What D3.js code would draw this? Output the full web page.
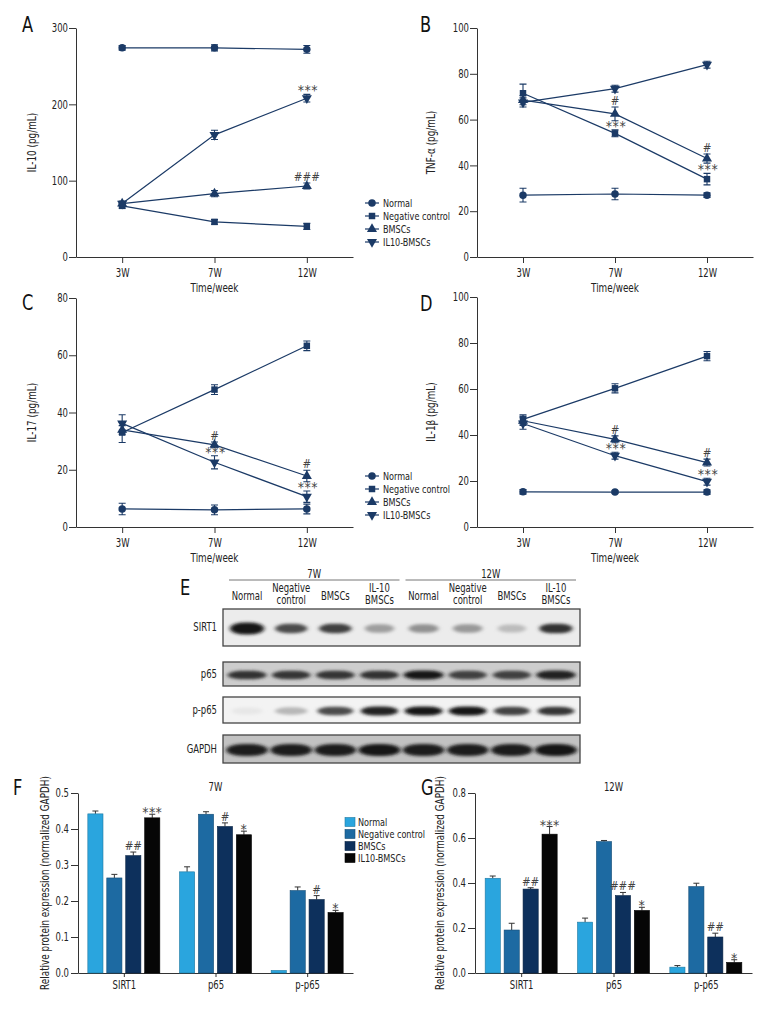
<!DOCTYPE html>
<html><head><meta charset="utf-8">
<script src="https://cdn.jsdelivr.net/npm/d3@7"></script>
<style>
body{margin:0;background:#fff;}
svg{display:block;font-family:"Liberation Sans Narrow","DejaVu Sans Condensed","Arial Narrow",sans-serif;fill:#222;}
</style></head><body>
<svg id="c" width="780" height="1020"></svg>
<script>
// ---------------- DATA ----------------
const times = ["3W", "7W", "12W"];
const groupNames = ["Normal", "Negative control", "BMSCs", "IL10-BMSCs"];

// line panels: rows = Normal, Negative control, BMSCs, IL10-BMSCs ; cols = 3W, 7W, 12W
const il10Values = [[274, 274, 272], [67, 46, 40], [70, 83, 93], [70, 160, 208]];
const il10Errors = [[3, 4, 5], [3, 3, 4], [3, 4, 4], [3, 6, 5]];
const il10Marks = [{ s: 3, t: 2, text: "***" }, { s: 2, t: 2, text: "###" }];

const tnfValues = [[27, 27.5, 27], [71.5, 54, 34], [68.5, 62.5, 43], [67.5, 73.5, 84]];
const tnfErrors = [[3, 2.5, 1], [4, 1.5, 2.5], [2, 3, 2], [2, 1.5, 1.5]];
const tnfMarks = [{ s: 2, t: 1, text: "#" }, { s: 1, t: 1, text: "***" }, { s: 2, t: 2, text: "#" }, { s: 1, t: 2, text: "***" }];

const il17Values = [[6.3, 6, 6.3], [33, 48, 63.3], [33.9, 28.7, 17.8], [36.2, 22.6, 10.6]];
const il17Errors = [[2, 1.7, 1.7], [3.5, 1.7, 1.7], [1.5, 1, 2], [3, 2.3, 2]];
const il17Marks = [{ s: 2, t: 1, text: "#" }, { s: 3, t: 1, text: "***" }, { s: 2, t: 2, text: "#" }, { s: 3, t: 2, text: "***" }];

const il1bValues = [[15.3, 15.2, 15.2], [46.8, 60.3, 74.3], [46.2, 38.1, 28], [45, 31, 19.7]];
const il1bErrors = [[1, 0.5, 1], [2, 2, 2], [2, 1.5, 1.5], [2.5, 1.5, 1.5]];
const il1bMarks = [{ s: 2, t: 1, text: "#" }, { s: 3, t: 1, text: "***" }, { s: 2, t: 2, text: "#" }, { s: 3, t: 2, text: "***" }];

// bar panels: rows = groups ; cols = proteins
const proteins = ["SIRT1", "p65", "p-p65"];
const w7Values = [[0.442, 0.281, 0.007], [0.264, 0.441, 0.229], [0.326, 0.407, 0.204], [0.431, 0.384, 0.168]];
const w7Errors = [[0.008, 0.014, 0.0], [0.01, 0.007, 0.01], [0.01, 0.01, 0.011], [0.01, 0.01, 0.006]];
const w7Marks = [["", "", ""], ["", "", ""], ["##", "#", "#"], ["***", "*", "*"]];
const w12Values = [[0.421, 0.226, 0.026], [0.191, 0.584, 0.384], [0.373, 0.344, 0.16], [0.617, 0.278, 0.047]];
const w12Errors = [[0.01, 0.018, 0.007], [0.03, 0.005, 0.015], [0.006, 0.014, 0.017], [0.034, 0.014, 0.012]];
const w12Marks = [["", "", ""], ["", "", ""], ["##", "###", "##"], ["***", "*", "*"]];

// western blot
const blotWeeks = ["7W", "12W"];
const blotLanes = [["Normal"], ["Negative", "control"], ["BMSCs"], ["IL-10", "BMSCs"]];
const blotRows = ["SIRT1", "p65", "p-p65", "GAPDH"];
const sirt1Bands = [1.0, 0.74, 0.8, 0.36, 0.42, 0.38, 0.22, 0.86];
const p65Bands = [0.86, 0.84, 0.84, 0.86, 1.0, 0.8, 0.8, 0.94];
const pp65Bands = [0.02, 0.24, 0.74, 0.93, 1.0, 1.0, 0.78, 0.84];
const gapdhBands = [0.95, 0.95, 0.95, 1.0, 0.95, 0.95, 0.95, 1.0];

// ---------------- STYLE ----------------
const svg = d3.select("#c");
const LINE_COL = "#1b3a66";
const AXIS_COL = "#333";
const FS = 11.5;
const barColors = ["#2aa5de", "#1d6aa2", "#0d305c", "#060606"];
const symbols = [
  d3.symbol().type(d3.symbolCircle).size(44)(),
  d3.symbol().type(d3.symbolSquare).size(42)(),
  d3.symbol().type(d3.symbolTriangle).size(44)(),
  d3.symbol().type(d3.symbolTriangle).size(44)()
];
const symRot = [0, 0, 0, 180];

function styleAxis(g) {
  g.attr("font-family", null).attr("font-size", FS);
  g.selectAll("path,line").attr("stroke", AXIS_COL).attr("stroke-width", 1);
  g.selectAll("text").attr("fill", "#222");
}

function letter(t, x, y) {
  svg.append("text").attr("x", x).attr("y", y).attr("font-size", 22).attr("fill", "#111").text(t);
}

function drawLineChart(o) {
  const g = svg.append("g");
  const x = d3.scalePoint().domain(times).range([o.left, o.right]).padding(0.5);
  const y = d3.scaleLinear().domain([0, o.max]).range([o.bottom, o.top]);
  g.append("g").attr("transform", `translate(${o.left},0)`)
    .call(d3.axisLeft(y).tickValues(d3.range(0, o.max + 1e-9, o.step)).tickSize(7).tickPadding(1).tickSizeOuter(0))
    .call(styleAxis);
  g.append("g").attr("transform", `translate(0,${o.bottom})`)
    .call(d3.axisBottom(x).tickSize(6).tickPadding(6).tickSizeOuter(0))
    .call(styleAxis);
  g.append("text").attr("x", (o.left + o.right) / 2).attr("y", o.bottom + 35)
    .attr("text-anchor", "middle").attr("font-size", 12).text("Time/week");
  g.append("text").attr("transform", `translate(${o.ylabX},${(o.top + o.bottom) / 2}) rotate(-90)`)
    .attr("text-anchor", "middle").attr("font-size", 12).text(o.ylab);

  const line = d3.line().x((d, i) => x(times[i])).y(d => y(d));
  o.values.forEach((vals) => {
    g.append("path").attr("d", line(vals)).attr("fill", "none").attr("stroke", LINE_COL).attr("stroke-width", 1.2);
  });
  o.values.forEach((vals, s) => {
    vals.forEach((v, i) => {
      const e = o.errors[s][i], cx = x(times[i]);
      g.append("path").attr("d", `M${cx},${y(v - e)}V${y(v + e)}M${cx - 3.5},${y(v - e)}H${cx + 3.5}M${cx - 3.5},${y(v + e)}H${cx + 3.5}`)
        .attr("stroke", LINE_COL).attr("stroke-width", 1.1).attr("fill", "none");
    });
  });
  o.values.forEach((vals, s) => {
    vals.forEach((v, i) => {
      g.append("path").attr("d", symbols[s])
        .attr("transform", `translate(${x(times[i])},${y(v)}) rotate(${symRot[s]})`)
        .attr("fill", LINE_COL);
    });
  });
  o.marks.forEach(m => {
    const v = o.values[m.s][m.t] + o.errors[m.s][m.t];
    const star = m.text.includes("*");
    g.append("text").attr("x", x(times[m.t]) + (star ? 1 : 0)).attr("y", y(v) - 6 + (star ? 7 : 4))
      .attr("text-anchor", "middle").attr("font-size", star ? 14 : 11.5)
      .attr("letter-spacing", star ? 0.5 : 0).attr("fill", "#444").text(m.text);
  });
  if (o.legendX) {
    groupNames.forEach((n, s) => {
      const ly = o.legendY + s * 13;
      g.append("line").attr("x1", o.legendX).attr("x2", o.legendX + 14).attr("y1", ly).attr("y2", ly)
        .attr("stroke", LINE_COL).attr("stroke-width", 1.2);
      g.append("path").attr("d", symbols[s]).attr("transform", `translate(${o.legendX + 7},${ly}) rotate(${symRot[s]})`).attr("fill", LINE_COL);
      g.append("text").attr("x", o.legendX + 18).attr("y", ly + 4).attr("font-size", 11).text(n);
    });
  }
}

function drawBarChart(o) {
  const g = svg.append("g");
  const x = d3.scalePoint().domain(proteins).range([o.left, o.right]).padding(0.5);
  const xs = d3.scaleBand().domain(d3.range(4)).range([-36, 36]).paddingInner(0.2);
  const y = d3.scaleLinear().domain([0, o.max]).range([o.bottom, o.top]);
  g.append("g").attr("transform", `translate(${o.left},0)`)
    .call(d3.axisLeft(y).tickValues(d3.range(0, o.max + 1e-9, o.step)).tickFormat(d3.format(".1f")).tickSize(7).tickPadding(2).tickSizeOuter(0))
    .call(styleAxis);
  g.append("g").attr("transform", `translate(0,${o.bottom})`)
    .call(d3.axisBottom(x).tickSize(4).tickPadding(4).tickSizeOuter(0))
    .call(styleAxis);
  g.append("text").attr("x", (o.left + o.right) / 2).attr("y", o.top - 2).attr("text-anchor", "middle").attr("font-size", 11.5).text(o.title);
  g.append("text").attr("transform", `translate(${o.ylabX},${(o.top + o.bottom) / 2}) rotate(-90)`)
    .attr("text-anchor", "middle").attr("font-size", 12).text("Relative protein expression (normalized GAPDH)");
  o.values.forEach((vals, s) => {
    vals.forEach((v, p) => {
      const bx = x(proteins[p]) + xs(s), bw = xs.bandwidth();
      const e = o.errors[s][p];
      if (e > 0) {
        const cx = bx + bw / 2;
        g.append("path").attr("d", `M${cx},${y(v)}V${y(v + e)}M${cx - 3},${y(v + e)}H${cx + 3}`)
          .attr("stroke", "#333").attr("stroke-width", 1).attr("fill", "none");
      }
      g.append("rect").attr("x", bx).attr("y", y(v)).attr("width", bw).attr("height", o.bottom - y(v))
        .attr("fill", barColors[s]).attr("stroke", d3.color(barColors[s]).darker(0.9)).attr("stroke-width", 0.6);
      const m = o.marks[s][p];
      if (m) {
        const star = m.includes("*");
        g.append("text").attr("x", bx + bw / 2).attr("y", y(v + e) - 6 + (star ? 9 : 4))
          .attr("text-anchor", "middle").attr("font-size", star ? 14 : 11.5).attr("letter-spacing", star ? 0.3 : 0)
          .attr("fill", "#444").text(m);
      }
    });
  });
  if (o.legendX) {
    groupNames.forEach((n, s) => {
      const ly = o.legendY + s * 12;
      g.append("rect").attr("x", o.legendX).attr("y", ly - 4.5).attr("width", 10).attr("height", 9)
        .attr("fill", barColors[s]).attr("stroke", d3.color(barColors[s]).darker(0.9)).attr("stroke-width", 0.6);
      g.append("text").attr("x", o.legendX + 13).attr("y", ly + 4).attr("font-size", 11).text(n);
    });
  }
}

// ---------------- LINE PANELS ----------------
drawLineChart({ left: 76, right: 353, top: 28, bottom: 257, max: 300, step: 100, values: il10Values, errors: il10Errors, marks: il10Marks, ylab: "IL-10 (pg/mL)", ylabX: 36, legendX: 365, legendY: 203 });
drawLineChart({ left: 477, right: 753, top: 28, bottom: 257, max: 100, step: 20, values: tnfValues, errors: tnfErrors, marks: tnfMarks, ylab: "TNF-α (pg/mL)", ylabX: 435 });
drawLineChart({ left: 76, right: 353, top: 298, bottom: 527, max: 80, step: 20, values: il17Values, errors: il17Errors, marks: il17Marks, ylab: "IL-17 (pg/mL)", ylabX: 36, legendX: 365, legendY: 476 });
drawLineChart({ left: 477, right: 753, top: 297, bottom: 527, max: 100, step: 20, values: il1bValues, errors: il1bErrors, marks: il1bMarks, ylab: "IL-1β (pg/mL)", ylabX: 435 });
letter("A", 22, 32); letter("B", 420, 32); letter("C", 22, 310); letter("D", 420, 311);

// ---------------- BLOT ----------------
(function () {
  const defs = svg.append("defs");
  defs.append("filter").attr("id", "blur").attr("x", "-30%").attr("y", "-100%").attr("width", "160%").attr("height", "300%")
    .append("feGaussianBlur").attr("stdDeviation", "2 1.4");
  const lanes = d3.range(8);
  const lx = d3.scaleBand().domain(lanes).range([225, 578]);
  const g = svg.append("g");
  blotWeeks.forEach((w, k) => {
    const a = lx(k * 4) + 4, b = lx(k * 4 + 3) + lx.bandwidth() - 2;
    g.append("line").attr("x1", a).attr("x2", b).attr("y1", 580).attr("y2", 580).attr("stroke", "#777").attr("stroke-width", 1);
    g.append("text").attr("x", (a + b) / 2).attr("y", 578).attr("text-anchor", "middle").attr("font-size", 11.5).text(w);
  });
  lanes.forEach(i => {
    const lab = blotLanes[i % 4], cx = lx(i) + lx.bandwidth() / 2;
    lab.forEach((t, j) => {
      g.append("text").attr("x", cx).attr("y", lab.length === 1 ? 600 : 592 + j * 12)
        .attr("text-anchor", "middle").attr("font-size", 11.5).text(t);
    });
  });
  const rowBox = [[609, 646, "#ececec", 10, 34], [662, 686, "#cdcdcd", 9, 40], [697, 723, "#f3f3f3", 9, 38], [735, 763, "#c2c2c2", 12, 42]];
  const rowBands = [sirt1Bands, p65Bands, pp65Bands, gapdhBands];
  blotRows.forEach((r, k) => {
    const [y0, y1, bg, bh, bw] = rowBox[k];
    g.append("rect").attr("x", 223).attr("y", y0).attr("width", 357).attr("height", y1 - y0).attr("fill", bg);
    const cy = (y0 + y1) / 2 + 1;
    rowBands[k].forEach((v, i) => {
      const cx = lx(i) + lx.bandwidth() / 2;
      const h = k === 0 && i === 0 ? bh + 2 : bh * (0.75 + 0.25 * v);
      const w = bw * (0.8 + 0.2 * v);
      const shade = Math.round(235 - v * 215);
      g.append("rect").attr("x", cx - w / 2).attr("y", cy - h / 2).attr("width", w).attr("height", h)
        .attr("rx", w / 2.5).attr("ry", h / 2)
        .attr("fill", `rgb(${shade},${shade},${shade})`).attr("filter", "url(#blur)");
    });
    g.append("rect").attr("x", 223).attr("y", y0).attr("width", 357).attr("height", y1 - y0)
      .attr("fill", "none").attr("stroke", "#444").attr("stroke-width", 1.3);
    g.append("text").attr("x", 217).attr("y", (y0 + y1) / 2 + 4).attr("text-anchor", "end").attr("font-size", 11.5).text(r);
  });
  letter("E", 180, 595);
})();

// ---------------- BAR PANELS ----------------
drawBarChart({ left: 78, right: 353, top: 793, bottom: 973, max: 0.5, step: 0.1, values: w7Values, errors: w7Errors, marks: w7Marks, title: "7W", ylabX: 49, legendX: 345, legendY: 822 });
drawBarChart({ left: 475, right: 752, top: 793, bottom: 973, max: 0.8, step: 0.2, values: w12Values, errors: w12Errors, marks: w12Marks, title: "12W", ylabX: 444 });
letter("F", 13, 795); letter("G", 421, 795);

// condense all text horizontally (mimics a condensed typeface) via a scale about each text's anchor point
const SQX = 0.82;
svg.selectAll("text").each(function () {
  const t = this.textContent;
  if (!t || /^[*#]+$/.test(t)) return;
  const ax = parseFloat(this.getAttribute("x")) || 0;
  const ay = parseFloat(this.getAttribute("y")) || 0;
  const prev = this.getAttribute("transform") || "";
  this.setAttribute("transform", `${prev} translate(${ax},${ay}) scale(${SQX},1) translate(${-ax},${-ay})`.trim());
});
</script>
</body></html>
